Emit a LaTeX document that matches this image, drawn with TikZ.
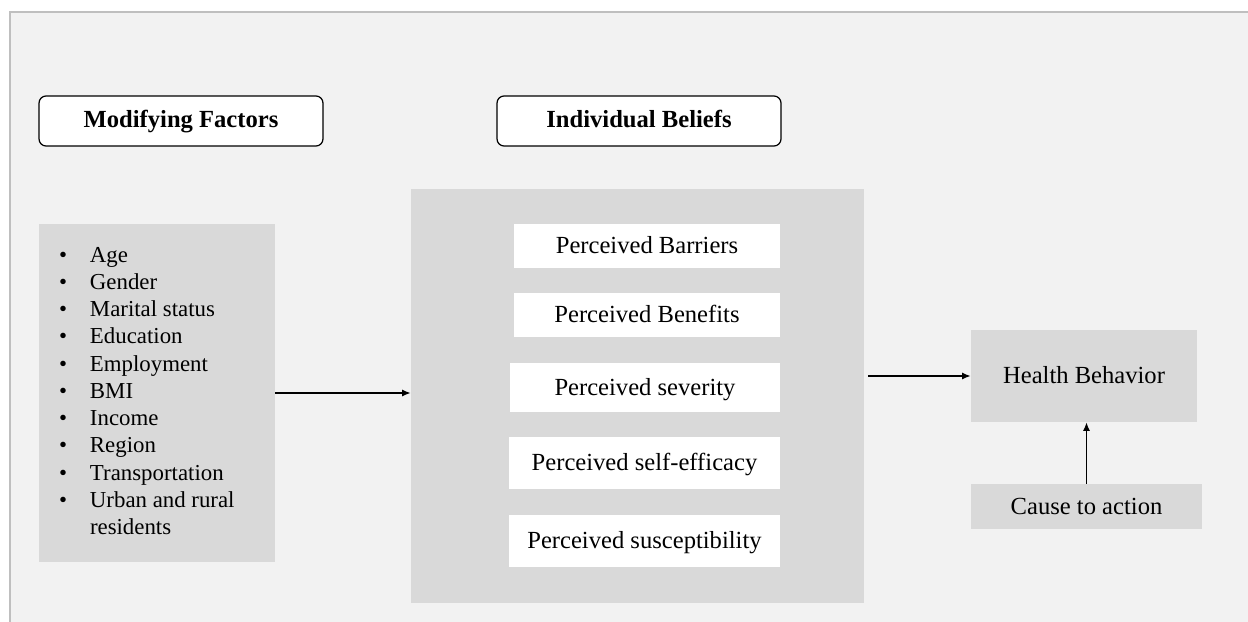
\documentclass[tikz,border=0pt]{standalone}
\usepackage{fontspec}
\setmainfont{Liberation Serif}
\usetikzlibrary{arrows.meta}
\definecolor{panelgray}{HTML}{F2F2F2}
\definecolor{boxgray}{HTML}{D9D9D9}
\definecolor{framegray}{HTML}{BFBFBF}

\begin{document}
\begin{tikzpicture}[x=0.02cm,y=-0.02cm,
		oneline/.style={text height=0.9em,text depth=0em},
		header/.style={text height=0.9em,text depth=0.18em,draw=black,fill=white,rounded corners=0.14cm,line width=0.7pt,minimum width=5.68cm,minimum height=1cm,font=\fontsize{14}{16}\selectfont\bfseries},
		greybox/.style={fill=boxgray,inner sep=0pt,font=\fontsize{14}{16}\selectfont},
		belief/.style={oneline,fill=white,inner sep=0pt,minimum width=5.32cm,minimum height=0.88cm,font=\fontsize{14}{16}\selectfont},
		link/.style={-{Latex[length=1.7mm,width=1.4mm]},line width=0.8pt}]
		\useasboundingbox (0,0) rectangle (1248,622);
		\fill[panelgray] (10,12) rectangle (1248,622);
		\draw[framegray,line width=0.9pt] (10,622) -- (10,12) -- (1248,12);
		\node[header] (modhead) at (181,121) {Modifying Factors};
		\node[header] (belhead) at (639,121) {Individual Beliefs};
		\node[greybox,minimum width=4.72cm,minimum height=6.76cm,font=\fontsize{13}{15.5}\selectfont] (factors) at (157,393) {%
			\begin{tabular}{@{}p{0.62cm}@{}p{3.3cm}@{}}
				\textbullet & Age\\
				\textbullet & Gender\\
				\textbullet & Marital status\\
				\textbullet & Education\\
				\textbullet & Employment\\
				\textbullet & BMI\\
				\textbullet & Income\\
				\textbullet & Region\\
				\textbullet & Transportation\\
				\textbullet & Urban and rural\\
				 & residents
			\end{tabular}};
		\node[greybox,minimum width=9.06cm,minimum height=8.28cm] (beliefs) at (637.5,396) {};
		\node[belief] (barriers) at (647,246) {Perceived Barriers};
		\node[belief] (benefits) at (647,315) {Perceived Benefits};
		\node[belief,minimum width=5.4cm,minimum height=0.98cm] (severity) at (645,387.5) {Perceived severity};
		\node[belief,minimum width=5.42cm,minimum height=1.04cm] (efficacy) at (644.5,463) {Perceived self-efficacy};
		\node[belief,minimum width=5.42cm,minimum height=1.04cm] (suscept) at (644.5,541) {Perceived susceptibility};
		\node[greybox,oneline,minimum width=4.52cm,minimum height=1.84cm] (behavior) at (1084,376) {Health Behavior};
		\node[greybox,oneline,minimum width=4.62cm,minimum height=0.9cm] (cause) at (1086.5,506.5) {Cause to action};
		\draw[link] (factors.east) -- (factors.east -| beliefs.west);
		\draw[link,shorten <=0.08cm] (behavior.west -| beliefs.east) -- (behavior.west);
		\draw[link] (cause.north) -- (cause.north |- behavior.south);
	\end{tikzpicture}
\end{document}
